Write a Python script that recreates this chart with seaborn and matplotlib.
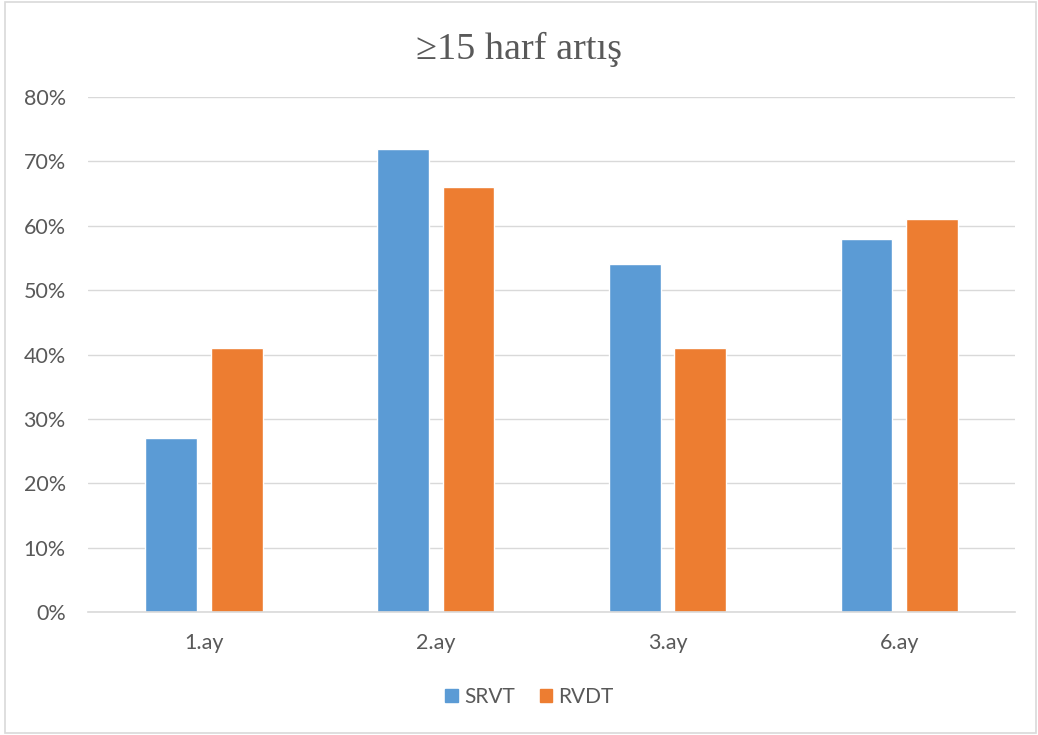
import matplotlib
matplotlib.use("Agg")
import matplotlib.pyplot as plt
from matplotlib.patches import Rectangle
from matplotlib.ticker import PercentFormatter
import seaborn as sns
import pandas as pd

months = ["1.ay", "2.ay", "3.ay", "6.ay"]
srvt = [27, 72, 54, 58]
rvdt = [41, 66, 41, 61]
series_names = ["SRVT", "RVDT"]
colors = ["#5B9BD5", "#ED7D31"]
title = "\u226515 harf art\u0131\u015f"

df = pd.DataFrame({
    "ay": months * 2,
    "oran": srvt + rvdt,
    "grup": [series_names[0]] * len(months) + [series_names[1]] * len(months),
})

sns.set_theme(style="white")
plt.rcParams["font.family"] = ["Lato", "DejaVu Sans"]

fig = plt.figure(figsize=(10.38, 7.35), dpi=100)
ax = fig.add_axes([0.0848, 0.1673, 0.8932, 0.7007])

sns.barplot(data=df, x="ay", y="oran", hue="grup", palette=colors,
            width=0.565, gap=0.21, ax=ax, legend=False, saturation=1)

ax.set_ylim(0, 80)
ax.set_xlim(-0.5, len(months) - 0.5)
ax.set_yticks(range(0, 81, 10))
ax.yaxis.set_major_formatter(PercentFormatter(decimals=0))
ax.yaxis.grid(True, color="#D9D9D9", linewidth=1)
ax.set_axisbelow(True)
for side in ["top", "right", "left"]:
    ax.spines[side].set_visible(False)
ax.spines["bottom"].set_color("#D9D9D9")
ax.spines["bottom"].set_linewidth(1.2)
ax.set_xlabel("")
ax.set_ylabel("")
ax.tick_params(axis="both", length=0, labelsize=15.5, colors="#595959")
ax.tick_params(axis="y", pad=16)
ax.tick_params(axis="x", pad=15)

fig.text(0.5, 0.933, title, ha="center", va="center", fontsize=27.5,
         color="#595959", family=["Liberation Serif", "DejaVu Serif"])

handles = [Rectangle((0, 0), 1, 1, color=c) for c in colors]
fig.legend(handles, series_names, loc="center", bbox_to_anchor=(0.51, 0.052),
           ncol=2, frameon=False, fontsize=15, handlelength=0.6,
           handleheight=0.6, handletextpad=0.3, columnspacing=1.2,
           labelcolor="#595959")

fig.patches.append(Rectangle((5 / 1038, 2 / 735), 1031 / 1038, 731 / 735,
                             transform=fig.transFigure, fill=False,
                             edgecolor="#D9D9D9", linewidth=1.2))

fig.savefig("out.png", dpi=100, facecolor="white")
